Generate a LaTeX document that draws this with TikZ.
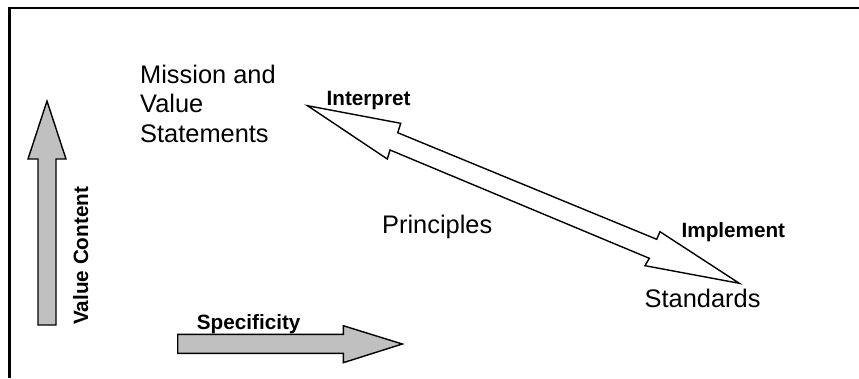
\documentclass[tikz,border=0pt]{standalone}
\usepackage{fontspec}
\setmainfont{Liberation Sans}
\definecolor{arrowgray}{HTML}{C0C0C0}
\begin{document}
\begin{tikzpicture}[x=1pt,y=-1pt,
  blockarrow/.style={draw=black,line width=1.4pt,line join=miter},
  plainlbl/.style={inner sep=0pt,anchor=base west,font=\fontsize{25.4}{29}\selectfont},
  boldlbl/.style={inner sep=0pt,anchor=base west,font=\fontsize{20.7}{24}\selectfont\bfseries}]
\useasboundingbox (0,0) rectangle (859,378);
% frame (top and left sides)
\draw[line width=2.5pt] (9.5,378) -- (9.5,8) -- (859,8);
% vertical value-content arrow
\draw[blockarrow,fill=arrowgray] (38,325) -- (38,159) -- (28,159) -- (47,101) -- (66,159) -- (56,159) -- (56,325) -- cycle;
% horizontal specificity arrow
\draw[blockarrow,fill=arrowgray] (177.7,334.3) -- (343.3,334.3) -- (343.3,325.7) -- (402.3,344) -- (343.3,362.7) -- (343.3,353.3) -- (177.7,353.3) -- cycle;
% double arrow between mission statements and standards
\draw[blockarrow,fill=white] (307.5,105.7) -- (400.7,123.3) -- (397.7,132.7) -- (656.7,239.3) -- (660,231.7) -- (739.3,283.3) -- (645,265.7) -- (649.3,258.3) -- (390,150) -- (387.3,159) -- cycle;
% labels
\node[plainlbl] (mission) at (140,83.3) {Mission and};
\node[plainlbl] (value) at (140,112.8) {Value};
\node[plainlbl] (statements) at (140,142.3) {Statements};
\node[plainlbl] (principles) at (382,233) {Principles};
\node[plainlbl] (standards) at (644.5,307.3) {Standards};
\node[boldlbl] (interpret) at (326.4,105.7) {Interpret};
\node[boldlbl] (implement) at (681.4,237.7) {Implement};
\node[boldlbl] (specificity) at (196.7,329.3) {Specificity};
\node[boldlbl,rotate=90] (valuecontent) at (88,325) {Value Content};
\end{tikzpicture}
\end{document}
